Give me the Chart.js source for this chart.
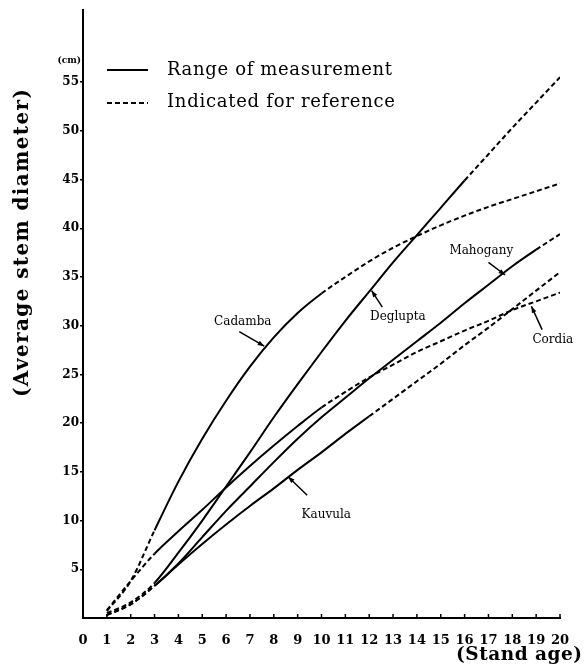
<!DOCTYPE html>
<html>
<head>
<meta charset="utf-8">
<title>Average stem diameter by stand age</title>
<script src="https://cdn.jsdelivr.net/npm/chart.js@4.4.1/dist/chart.umd.min.js"></script>
<style>
    html, body { margin: 0; padding: 0; background: #fff; }
</style>
</head>
<body>
<canvas id="stem_diameter" width="585" height="671"></canvas>
<script>
// stand age (years)
var ages = [1, 2, 3, 4, 5, 6, 7, 8, 9, 10, 11, 12, 13, 14, 15, 16, 17, 18, 19, 20];

// average stem diameter (cm)
var cadamba  = [0.7, 3.8, 9.0, 14.0, 18.4, 22.3, 25.8, 28.8, 31.3, 33.3, 35.0, 36.6, 38.0, 39.2, 40.3, 41.3, 42.2, 43.0, 43.8, 44.6];
var deglupta = [0.5, 1.6, 3.6, 6.7, 10.0, 13.5, 17.0, 20.6, 24.0, 27.3, 30.5, 33.5, 36.5, 39.3, 42.1, 44.9, 47.6, 50.3, 52.9, 55.5];
var mahogany = [0.3, 1.4, 3.3, 5.6, 8.3, 11.0, 13.5, 16.0, 18.4, 20.6, 22.6, 24.6, 26.5, 28.4, 30.3, 32.3, 34.2, 36.1, 37.8, 39.4];
var cordia   = [0.8, 3.8, 6.6, 8.9, 11.1, 13.4, 15.6, 17.7, 19.7, 21.6, 23.2, 24.7, 26.0, 27.3, 28.4, 29.5, 30.5, 31.6, 32.5, 33.4];
var kauvula  = [0.3, 1.4, 3.3, 5.5, 7.6, 9.6, 11.5, 13.3, 15.2, 17.0, 18.9, 20.7, 22.5, 24.3, 26.1, 28.0, 29.8, 31.7, 33.6, 35.5];

var species = ["Cadamba", "Deglupta", "Mahogany", "Cordia", "Kauvula"];
var series = [cadamba, deglupta, mahogany, cordia, kauvula];
// measured (solid) range of each species, in stand age
var measuredFrom = [3, 3, 3, 3, 3];
var measuredTo = [10, 16, 19, 10, 12];

var xTicks = [0, 1, 2, 3, 4, 5, 6, 7, 8, 9, 10, 11, 12, 13, 14, 15, 16, 17, 18, 19, 20];
var yTicks = [5, 10, 15, 20, 25, 30, 35, 40, 45, 50, 55];

// species names on the plot: text spot and arrow (from -> to), in age / cm
var notes = [
    { text: "Cadamba",  at: [6.7, 30.4],  from: [6.55, 29.4],  to: [7.6, 27.9] },
    { text: "Deglupta", at: [13.2, 30.9], from: [12.55, 31.9], to: [12.1, 33.6] },
    { text: "Mahogany", at: [16.7, 37.7], from: [17.0, 36.5],  to: [17.7, 35.2] },
    { text: "Cordia",   at: [19.7, 28.5], from: [19.25, 29.6], to: [18.8, 32.0] },
    { text: "Kauvula",  at: [10.2, 10.6], from: [9.4, 12.6],   to: [8.6, 14.5] }
];

var dashPattern = [5, 3];
var serif = "'DejaVu Serif', 'Liberation Serif', serif";

function fitText(ctx, text, left, y, width) {
    ctx.letterSpacing = "0px";
    var w = ctx.measureText(text).width;
    var ls = (width - w) / Math.max(text.length - 1, 1);
    ctx.letterSpacing = ls + "px";
    ctx.textAlign = "left";
    ctx.fillText(text, left, y);
    ctx.letterSpacing = "0px";
}

var datasets = [];
for (var i = 0; i < series.length; i++) {
    (function(k) {
        var pts = [];
        for (var j = 0; j < ages.length; j++) {
            pts.push({ x: ages[j], y: series[k][j] });
        }
        datasets.push({
            label: species[k],
            data: pts,
            borderColor: "#000",
            borderWidth: 2,
            pointRadius: 0,
            fill: false,
            cubicInterpolationMode: "monotone",
            segment: {
                borderDash: function(ctx) {
                    var x0 = ctx.p0.parsed.x;
                    return (x0 < measuredFrom[k] || x0 >= measuredTo[k]) ? dashPattern : undefined;
                }
            }
        });
    })(i);
}

var extras = {
    id: "extras",
    afterDraw: function(chart) {
        var ctx = chart.ctx;
        var xs = chart.scales.x;
        var ys = chart.scales.y;
        var area = chart.chartArea;
        ctx.save();
        ctx.fillStyle = "#000";
        ctx.strokeStyle = "#000";

        // x tick marks point up into the plot
        ctx.lineWidth = 1.5;
        xTicks.forEach(function(v) {
            var px = xs.getPixelForValue(v);
            ctx.beginPath();
            ctx.moveTo(px, area.bottom);
            ctx.lineTo(px, area.bottom - 4);
            ctx.stroke();
        });

        // legend
        var lx = area.left + 24;
        ctx.lineWidth = 2;
        ctx.beginPath();
        ctx.moveTo(lx, 70);
        ctx.lineTo(lx + 41, 70);
        ctx.stroke();
        ctx.setLineDash(dashPattern);
        ctx.beginPath();
        ctx.moveTo(lx, 103);
        ctx.lineTo(lx + 41, 103);
        ctx.stroke();
        ctx.setLineDash([]);
        ctx.font = "18px " + serif;
        ctx.textBaseline = "middle";
        fitText(ctx, "Range of measurement", lx + 60, 70, 225);
        fitText(ctx, "Indicated for reference", lx + 60, 102, 228);

        // unit
        ctx.font = "bold 9px " + serif;
        ctx.textAlign = "right";
        ctx.fillText("(cm)", area.left - 2, 61);

        // axis titles
        ctx.font = "bold 18.5px " + serif;
        ctx.textBaseline = "middle";
        fitText(ctx, "(Stand age)", 456, 655, 126);
        ctx.font = "bold 20px " + serif;
        ctx.translate(23, 243);
        ctx.rotate(-Math.PI / 2);
        fitText(ctx, "(Average stem diameter)", -154, 0, 308);
        ctx.setTransform(1, 0, 0, 1, 0, 0);

        // species labels with arrows
        ctx.font = "12px " + serif;
        notes.forEach(function(n) {
            var tx = xs.getPixelForValue(n.at[0]);
            var ty = ys.getPixelForValue(n.at[1]);
            ctx.textAlign = "center";
            ctx.fillText(n.text, tx, ty);
            var x1 = xs.getPixelForValue(n.from[0]), y1 = ys.getPixelForValue(n.from[1]);
            var x2 = xs.getPixelForValue(n.to[0]), y2 = ys.getPixelForValue(n.to[1]);
            var ang = Math.atan2(y2 - y1, x2 - x1);
            ctx.lineWidth = 1.5;
            ctx.beginPath();
            ctx.moveTo(x1, y1);
            ctx.lineTo(x2, y2);
            ctx.stroke();
            ctx.beginPath();
            ctx.moveTo(x2, y2);
            ctx.lineTo(x2 - 7 * Math.cos(ang - 0.35), y2 - 7 * Math.sin(ang - 0.35));
            ctx.lineTo(x2 - 7 * Math.cos(ang + 0.35), y2 - 7 * Math.sin(ang + 0.35));
            ctx.closePath();
            ctx.fill();
        });
        ctx.restore();
    }
};

var canvas = document.getElementById("stem_diameter");

var stem_diameter = new Chart(canvas, {
    type: "line",
    data: { datasets: datasets },
    options: {
        responsive: false,
        animation: false,
        layout: { padding: { top: 10, right: 25, left: 0, bottom: 0 } },
        plugins: {
            legend: { display: false },
            tooltip: { enabled: false }
        },
        scales: {
            x: {
                type: "linear",
                min: 0,
                max: 20,
                afterBuildTicks: function(scale) {
                    scale.ticks = xTicks.map(function(v) { return { value: v }; });
                },
                afterFit: function(scale) { scale.height = 53; },
                grid: { display: false },
                border: { display: true, color: "#000", width: 2 },
                ticks: {
                    color: "#000",
                    padding: 7,
                    maxRotation: 0,
                    autoSkip: false,
                    font: { family: serif, size: 13, weight: "bold" }
                }
            },
            y: {
                type: "linear",
                min: 0,
                max: 62.4,
                afterBuildTicks: function(scale) {
                    scale.ticks = yTicks.map(function(v) { return { value: v }; });
                },
                afterFit: function(scale) { scale.width = 83; },
                grid: { display: true, drawOnChartArea: false, drawTicks: true, tickLength: 3, color: "#000", lineWidth: 1.5 },
                border: { display: true, color: "#000", width: 2 },
                ticks: {
                    color: "#000",
                    padding: 1,
                    autoSkip: false,
                    font: { family: serif, size: 12, weight: "bold" }
                }
            }
        }
    },
    plugins: [extras]
});
</script>
</body>
</html>
